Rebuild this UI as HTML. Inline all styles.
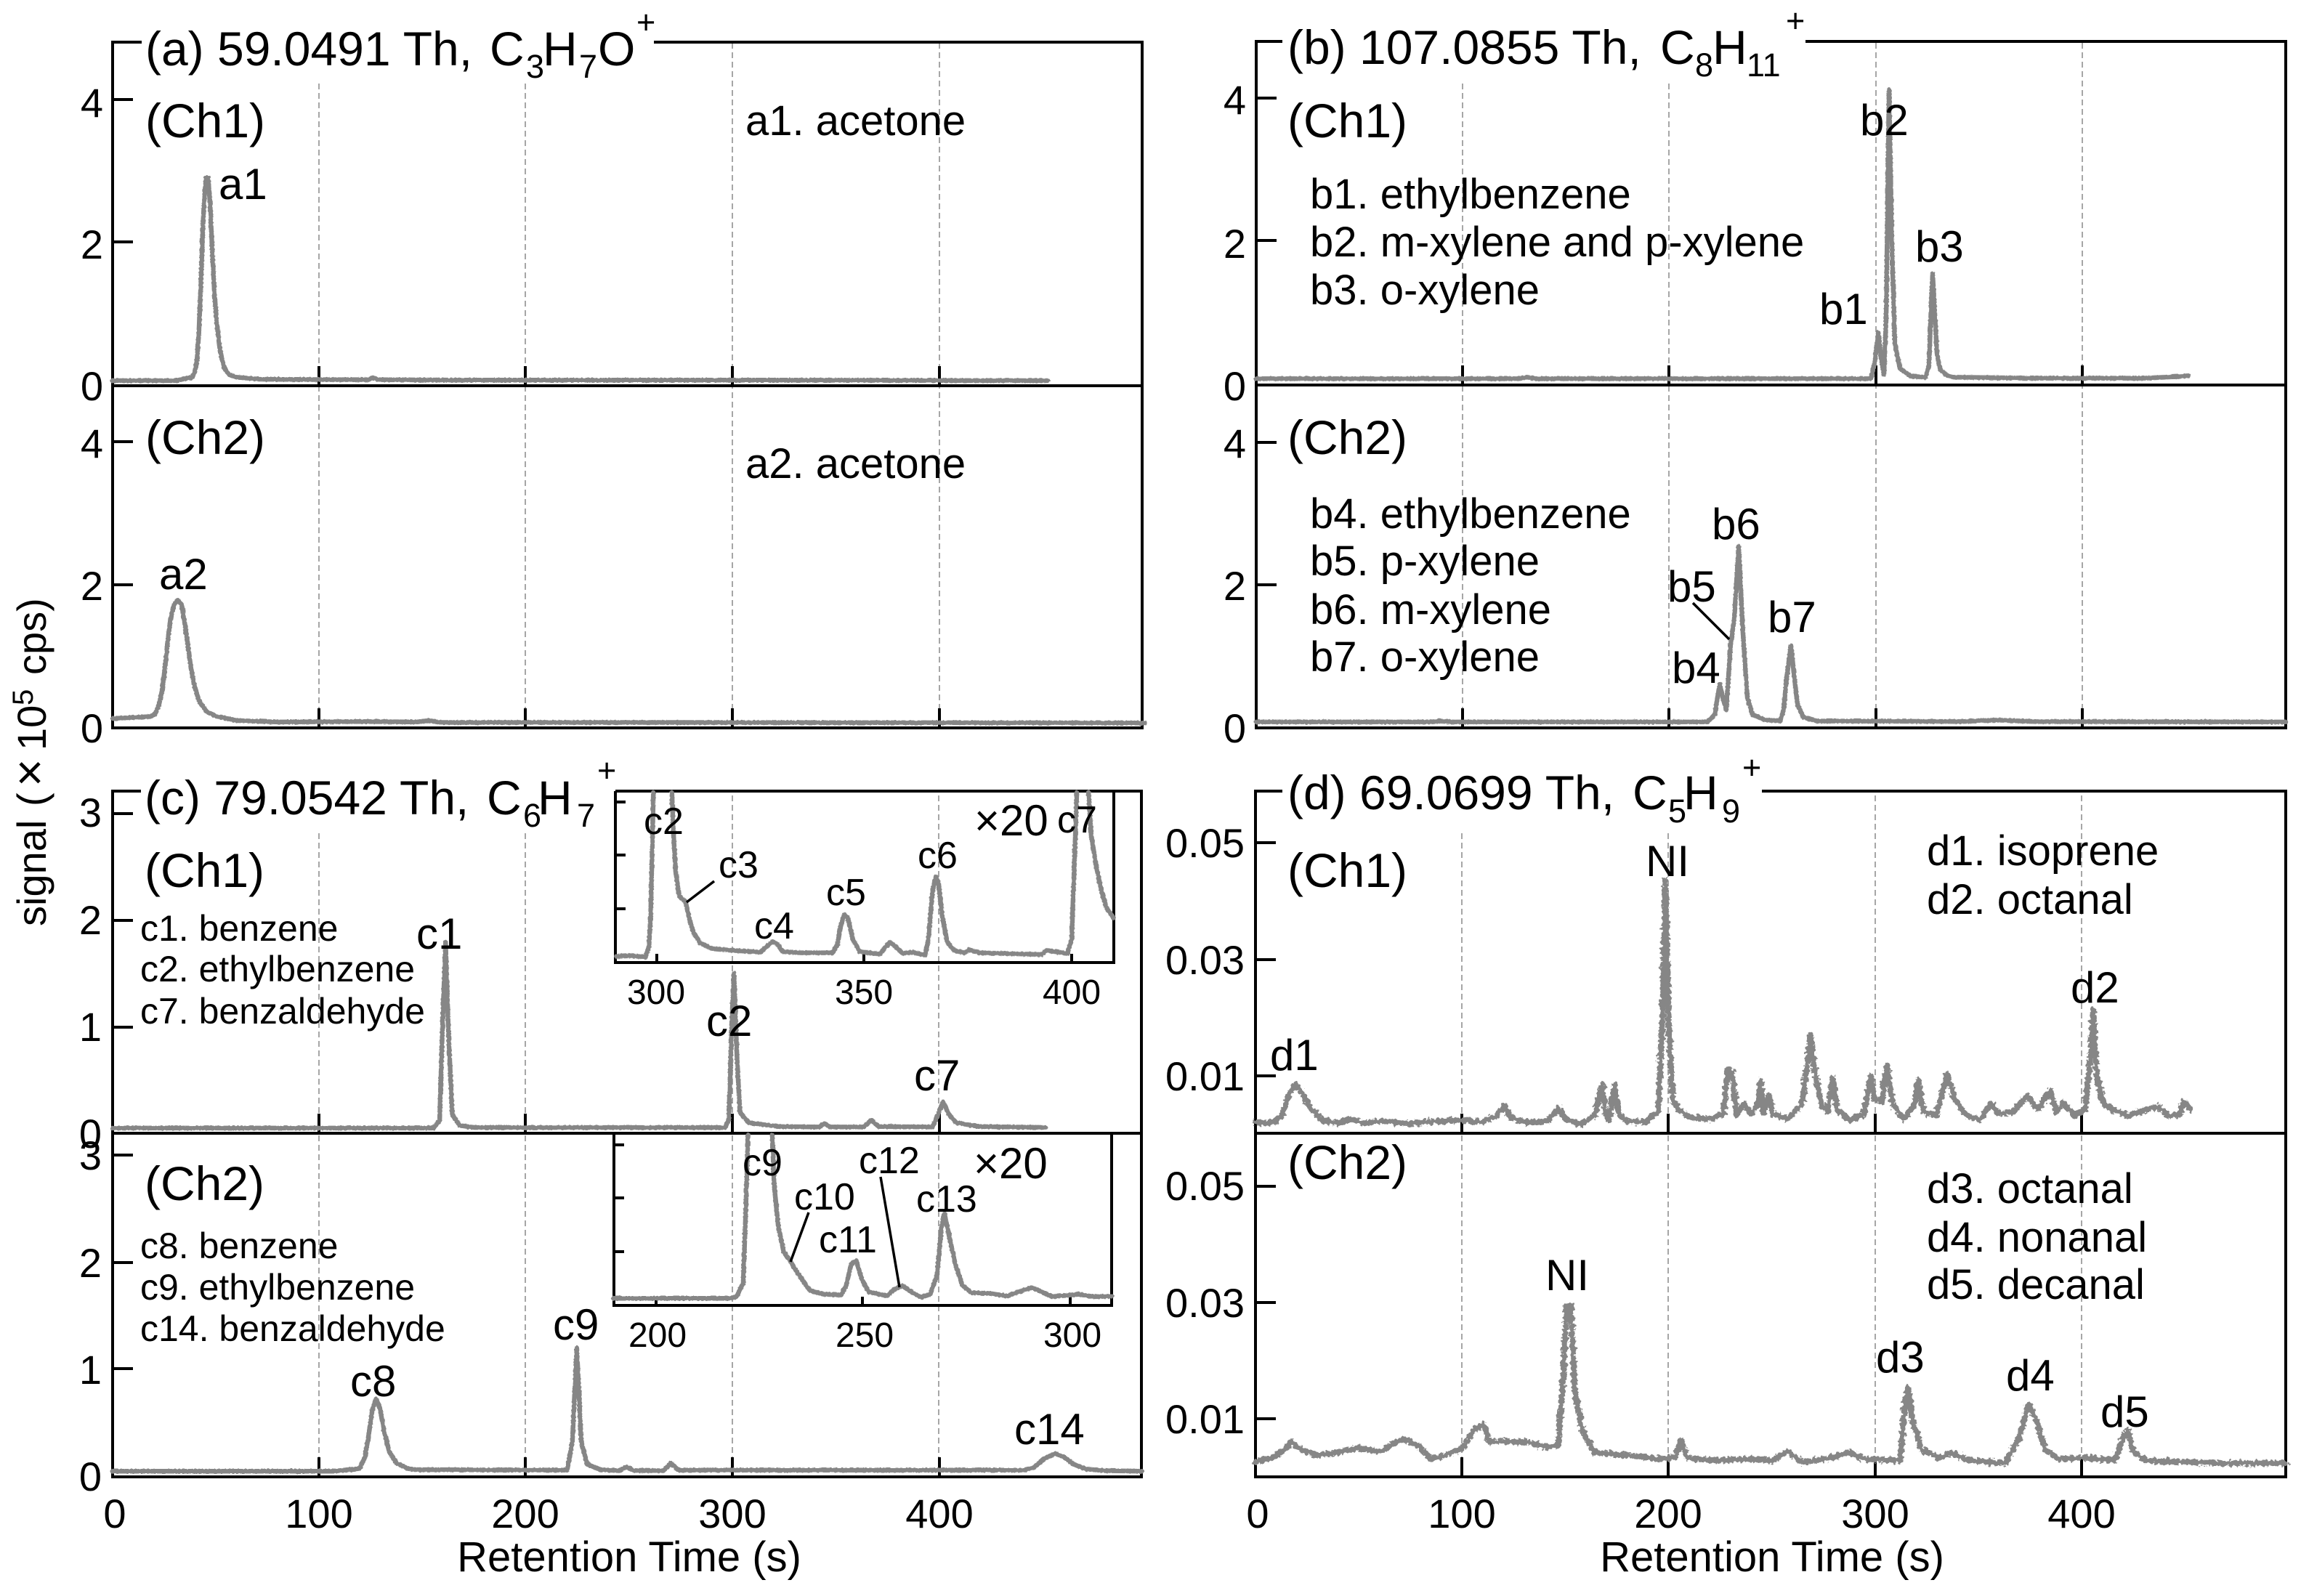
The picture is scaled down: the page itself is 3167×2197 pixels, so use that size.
<!DOCTYPE html>
<html><head><meta charset="utf-8"><style>
html,body{margin:0;padding:0;background:#fff}
svg{display:block}
text{font-family:"Liberation Sans",Arial,sans-serif;fill:#000}
.t{font-size:66px}.s{font-size:45px}.p{font-size:60px}.l{font-size:58px}.m{font-size:50px}.n{font-size:52px}.k{font-size:56px}.i{font-size:48px}.x{font-size:58px}
.e{text-anchor:end}.c{text-anchor:middle}
polyline.d{fill:none;stroke:#868686;stroke-width:6.5;vector-effect:non-scaling-stroke;stroke-linejoin:round;stroke-linecap:round}
.w polyline.d{stroke-width:8}
.g line{stroke:#888;stroke-width:1.5;stroke-dasharray:8 5}
.a path{fill:none;stroke:#000;stroke-width:4}
.b line{stroke:#000;stroke-width:4}
.h line{stroke:#000;stroke-width:3.5}
</style></head><body>
<svg xmlns="http://www.w3.org/2000/svg" width="3167" height="2197" viewBox="0 0 3167 2197">
<defs>
<filter id="r1" filterUnits="userSpaceOnUse" x="0" y="0" width="3167" height="2197" color-interpolation-filters="sRGB">
<feTurbulence type="fractalNoise" baseFrequency="0.35" numOctaves="1" seed="3" result="n"/>
<feDisplacementMap in="SourceGraphic" in2="n" scale="3" xChannelSelector="R" yChannelSelector="G"/>
</filter>
<filter id="r2" filterUnits="userSpaceOnUse" x="0" y="0" width="3167" height="2197" color-interpolation-filters="sRGB">
<feTurbulence type="fractalNoise" baseFrequency="0.22" numOctaves="2" seed="7" result="n"/>
<feDisplacementMap in="SourceGraphic" in2="n" scale="9" xChannelSelector="R" yChannelSelector="G"/>
</filter>
</defs>
<rect width="3167" height="2197" fill="#fff"/>

<!-- grid -->
<g class="g">
<line x1="439" y1="115" x2="439" y2="1002"/><line x1="723" y1="115" x2="723" y2="1002"/><line x1="1008" y1="59" x2="1008" y2="1002"/><line x1="1293" y1="59" x2="1293" y2="1002"/>
<line x1="2013" y1="115" x2="2013" y2="1002"/><line x1="2297" y1="115" x2="2297" y2="1002"/><line x1="2582" y1="59" x2="2582" y2="1002"/><line x1="2866" y1="59" x2="2866" y2="1002"/>
<line x1="439" y1="1147" x2="439" y2="2033"/><line x1="723" y1="1147" x2="723" y2="2033"/><line x1="1008" y1="1095" x2="1008" y2="2033"/><line x1="1292" y1="1095" x2="1292" y2="2033"/>
<line x1="2012" y1="1147" x2="2012" y2="2033"/><line x1="2296" y1="1147" x2="2296" y2="2033"/><line x1="2581" y1="1095" x2="2581" y2="2033"/><line x1="2865" y1="1095" x2="2865" y2="2033"/>
</g>

<!-- axes -->
<g class="a">
<path d="M195 58H155V1002H1572V58H900M155 531H1572"/>
<path d="M1765 57H1729V1002H3146V57H2485M1729 530H3146"/>
<path d="M194 1089H155V2033H1571V1089H847M155 1560H1571"/>
<path d="M1765 1089H1728V2033H3146V1089H2425M1728 1560H3146"/>
<path d="M847 1089V1325H1533V1089"/>
<path d="M845 1560V1797H1530V1560"/>
</g>

<!-- ticks -->
<g class="b">
<line x1="155" y1="137" x2="183" y2="137"/><line x1="155" y1="333" x2="183" y2="333"/><line x1="155" y1="608" x2="183" y2="608"/><line x1="155" y1="805" x2="183" y2="805"/>
<line x1="439" y1="504" x2="439" y2="531"/><line x1="723" y1="504" x2="723" y2="531"/><line x1="1008" y1="504" x2="1008" y2="531"/><line x1="1293" y1="504" x2="1293" y2="531"/>
<line x1="439" y1="975" x2="439" y2="1002"/><line x1="723" y1="975" x2="723" y2="1002"/><line x1="1008" y1="975" x2="1008" y2="1002"/><line x1="1293" y1="975" x2="1293" y2="1002"/>
<line x1="1729" y1="135" x2="1757" y2="135"/><line x1="1729" y1="331" x2="1757" y2="331"/><line x1="1729" y1="609" x2="1757" y2="609"/><line x1="1729" y1="805" x2="1757" y2="805"/>
<line x1="2013" y1="503" x2="2013" y2="530"/><line x1="2297" y1="503" x2="2297" y2="530"/><line x1="2582" y1="503" x2="2582" y2="530"/><line x1="2866" y1="503" x2="2866" y2="530"/>
<line x1="2013" y1="975" x2="2013" y2="1002"/><line x1="2297" y1="975" x2="2297" y2="1002"/><line x1="2582" y1="975" x2="2582" y2="1002"/><line x1="2866" y1="975" x2="2866" y2="1002"/>
<line x1="155" y1="1120" x2="183" y2="1120"/><line x1="155" y1="1267" x2="183" y2="1267"/><line x1="155" y1="1414" x2="183" y2="1414"/>
<line x1="155" y1="1590" x2="183" y2="1590"/><line x1="155" y1="1738" x2="183" y2="1738"/><line x1="155" y1="1884" x2="183" y2="1884"/>
<line x1="439" y1="1533" x2="439" y2="1560"/><line x1="723" y1="1533" x2="723" y2="1560"/><line x1="1008" y1="1533" x2="1008" y2="1560"/><line x1="1293" y1="1533" x2="1293" y2="1560"/>
<line x1="439" y1="2006" x2="439" y2="2033"/><line x1="723" y1="2006" x2="723" y2="2033"/><line x1="1008" y1="2006" x2="1008" y2="2033"/><line x1="1293" y1="2006" x2="1293" y2="2033"/>
<line x1="1728" y1="1160" x2="1756" y2="1160"/><line x1="1728" y1="1321" x2="1756" y2="1321"/><line x1="1728" y1="1481" x2="1756" y2="1481"/>
<line x1="1728" y1="1633" x2="1756" y2="1633"/><line x1="1728" y1="1793" x2="1756" y2="1793"/><line x1="1728" y1="1953" x2="1756" y2="1953"/>
<line x1="2012" y1="1533" x2="2012" y2="1560"/><line x1="2296" y1="1533" x2="2296" y2="1560"/><line x1="2581" y1="1533" x2="2581" y2="1560"/><line x1="2865" y1="1533" x2="2865" y2="1560"/>
<line x1="2012" y1="2006" x2="2012" y2="2033"/><line x1="2296" y1="2006" x2="2296" y2="2033"/><line x1="2581" y1="2006" x2="2581" y2="2033"/><line x1="2865" y1="2006" x2="2865" y2="2033"/>
<!-- inset 1 -->
<line x1="847" y1="1104" x2="861" y2="1104"/><line x1="847" y1="1177" x2="861" y2="1177"/><line x1="847" y1="1251" x2="861" y2="1251"/>
<line x1="904" y1="1313" x2="904" y2="1325"/><line x1="1189" y1="1313" x2="1189" y2="1325"/><line x1="1475" y1="1313" x2="1475" y2="1325"/>
<!-- inset 2 -->
<line x1="845" y1="1576" x2="859" y2="1576"/><line x1="845" y1="1649" x2="859" y2="1649"/><line x1="845" y1="1723" x2="859" y2="1723"/>
<line x1="903" y1="1785" x2="903" y2="1797"/><line x1="1187" y1="1785" x2="1187" y2="1797"/><line x1="1473" y1="1785" x2="1473" y2="1797"/>
</g>

<g filter="url(#r1)">
<!-- traces panel a -->
<g transform="scale(.6378 .6761)">
<polyline class="d" points="243,775 380,775 415,768 420,758 425,735 429,680 433,590 437,480 441,400 445,362 449,362 453,410 458,510 463,600 468,660 475,715 484,750 495,763 510,768 560,772 700,773 795,773 805,769 815,773 1000,774 1300,774 1700,774 2261,775"/>
<polyline class="d" points="243,1463 325,1459 335,1453 343,1435 350,1405 356,1360 362,1305 368,1260 375,1232 384,1222 392,1232 398,1265 405,1310 412,1360 420,1398 430,1428 445,1448 465,1458 510,1467 600,1470 780,1469 900,1470 925,1467 950,1471 1500,1471 2470,1472"/>
</g>
<!-- traces panel b -->
<g transform="translate(1600 0) scale(1 .6761)">
<polyline class="d" points="129,771 490,771 502,768 514,771 975,771 980,740 985,677 990,740 993,762 996,650 1000,183 1004,500 1008,700 1015,750 1030,766 1050,768 1055,745 1057,660 1060,557 1063,640 1066,720 1070,752 1080,765 1090,768 1200,770 1350,770 1380,768 1412,765"/>
<polyline class="d" points="129,1470 370,1470 380,1468 400,1470 750,1470 760,1455 767,1393 772,1425 776,1445 782,1310 787,1260 793,1112 799,1290 805,1420 812,1455 830,1466 850,1468 855,1445 859,1380 865,1315 869,1370 874,1435 882,1460 900,1468 1100,1469 1150,1466 1200,1469 1546,1470"/>
</g>
<!-- traces panel c -->
<g transform="translate(0 1040) scale(1.0204 .738)">
<polyline class="d" points="152,695 585,695 593,680 597,500 601,348 605,520 610,670 620,690 640,694 978,694 983,680 987,500 990,406 994,560 998,665 1010,685 1050,692 1105,693 1112,686 1120,693 1165,693 1175,680 1185,692 1258,693 1265,670 1272,646 1280,670 1290,685 1320,692 1410,694"/>
<polyline class="d" points="152,1335 450,1335 485,1330 492,1310 497,1270 502,1222 507,1200 512,1215 518,1260 525,1298 535,1320 550,1330 560,1332 765,1333 772,1280 778,1105 784,1280 792,1322 810,1332 835,1334 845,1327 855,1334 895,1334 905,1320 915,1333 1380,1333 1395,1328 1408,1312 1423,1302 1435,1308 1448,1322 1465,1331 1490,1334 1540,1335"/>
</g>
<!-- inset traces -->
<g transform="translate(820 1060) scale(.4719 .3333)">
<polyline class="d" points="60,770 100,767 145,772 155,730 160,600 165,300 168,92"/>
<polyline class="d" points="222,92 226,250 233,420 243,520 262,545 272,610 285,670 305,715 340,738 400,745 480,752 498,730 515,708 530,720 545,750 600,755 690,755 705,720 715,640 725,597 735,610 750,700 770,750 830,760 845,730 858,712 875,730 895,757 925,752 960,765 970,700 982,500 992,440 1000,470 1010,600 1025,710 1045,745 1075,755 1090,742 1120,755 1300,762 1315,745 1340,750 1375,758 1388,700 1398,300 1403,92"/>
<polyline class="d" points="1437,92 1445,270 1460,400 1475,500 1490,570 1510,610"/>
</g>
<g transform="translate(820 1540) scale(.4719 .3333)">
<polyline class="d" points="52,742 390,742 410,735 430,680 437,400 444,68"/>
<polyline class="d" points="515,68 520,270 532,440 548,550 570,595 595,650 625,710 665,725 715,728 730,690 745,600 760,588 775,660 795,715 850,732 870,705 895,690 925,720 950,737 975,725 995,650 1008,450 1017,392 1030,480 1050,610 1070,690 1095,718 1150,722 1200,732 1240,712 1272,697 1300,715 1330,735 1410,725 1450,735 1505,733"/>
</g>
</g>

<!-- traces panel d -->
<g filter="url(#r2)" class="w">
<g transform="translate(1600 1040) scale(1 .738)">
<polyline class="d" points="128,684 140,686 155,683 165,670 175,630 183,613 192,630 205,660 220,680 240,686 260,678 275,686 300,682 340,686 380,682 412,680 440,684 460,672 470,653 478,675 500,684 530,682 545,658 555,678 575,688 595,672 600,640 605,613 610,670 615,680 622,614 628,670 640,682 665,684 682,665 688,500 692,232 697,500 702,640 710,660 725,675 755,678 772,668 778,586 784,590 790,670 800,650 810,668 820,650 823,608 827,665 835,635 840,668 860,678 880,650 888,570 892,520 898,590 908,655 915,665 923,602 928,660 945,680 965,670 975,598 980,640 990,645 997,578 1005,650 1020,678 1035,650 1040,605 1047,665 1065,670 1080,595 1090,640 1105,670 1125,680 1140,648 1150,668 1170,665 1190,635 1205,660 1222,625 1230,665 1240,648 1255,672 1270,660 1277,560 1281,475 1286,600 1295,650 1310,662 1330,672 1350,662 1370,655 1385,672 1400,670 1405,645 1415,660"/>
<polyline class="d" points="128,1318 150,1310 165,1298 178,1280 190,1295 215,1305 240,1300 270,1292 300,1298 330,1275 350,1285 370,1312 390,1305 415,1290 430,1255 442,1248 450,1280 470,1280 500,1280 530,1290 545,1285 552,1150 556,1025 562,1025 567,1180 578,1260 595,1300 640,1305 680,1312 705,1310 714,1277 722,1310 760,1315 800,1312 840,1315 860,1298 880,1318 920,1310 945,1300 965,1312 1015,1315 1022,1210 1026,1180 1032,1240 1045,1295 1070,1310 1085,1300 1110,1315 1160,1320 1180,1270 1192,1210 1203,1240 1215,1295 1235,1312 1270,1310 1310,1315 1322,1275 1328,1258 1336,1300 1355,1315 1400,1317 1450,1320 1546,1320"/>
</g>
</g>

<!-- leaders -->
<g class="h">
<line x1="2330" y1="830" x2="2380" y2="880"/>
<line x1="983" y1="1213" x2="945" y2="1242"/>
<line x1="1113" y1="1669" x2="1088" y2="1737"/>
<line x1="1212" y1="1620" x2="1238" y2="1772"/>
</g>

<!-- y label -->
<text class="k" transform="translate(63 1275) rotate(-90)">signal<tspan x="165">(</tspan><tspan x="192" font-size="66">×</tspan><tspan x="242">10</tspan><tspan x="304" y="-18" font-size="40">5</tspan><tspan x="346" y="0">cps)</tspan></text>

<!-- panel a text -->
<text class="t" x="200" y="90">(a) 59.0491 Th,</text><text class="t" x="674" y="90">C</text><text class="s" x="724" y="107">3</text><text class="t" x="747" y="90">H</text><text class="s" x="797" y="107">7</text><text class="t" x="823" y="90">O</text><text class="s" x="876" y="46">+</text>
<text class="t" x="200" y="189">(Ch1)</text><text class="t" x="200" y="625">(Ch2)</text>
<text class="p" x="301" y="274">a1</text><text class="p" x="219" y="811">a2</text>
<text class="l" x="1026" y="186">a1. acetone</text><text class="l" x="1026" y="658">a2. acetone</text>
<g class="k e"><text x="142" y="161">4</text><text x="142" y="356">2</text><text x="142" y="551">0</text><text x="142" y="630">4</text><text x="142" y="826">2</text><text x="142" y="1022">0</text></g>

<!-- panel b text -->
<text class="t" x="1772" y="88">(b) 107.0855 Th,</text><text class="t" x="2285" y="88">C</text><text class="s" x="2333" y="105">8</text><text class="t" x="2357" y="88">H</text><text class="s" x="2404" y="105">11</text><text class="s" x="2458" y="44">+</text>
<text class="t" x="1772" y="189">(Ch1)</text><text class="t" x="1772" y="625">(Ch2)</text>
<g class="l"><text x="1803" y="287">b1. ethylbenzene</text><text x="1803" y="353">b2. m-xylene and p-xylene</text><text x="1803" y="419">b3. o-xylene</text><text x="1803" y="727">b4. ethylbenzene</text><text x="1803" y="792">b5. p-xylene</text><text x="1803" y="859">b6. m-xylene</text><text x="1803" y="924">b7. o-xylene</text></g>
<g class="p"><text x="2560" y="186">b2</text><text x="2636" y="360">b3</text><text x="2504" y="446">b1</text><text x="2356" y="742">b6</text><text x="2295" y="828">b5</text><text x="2301" y="940">b4</text><text x="2433" y="870">b7</text></g>
<g class="k e"><text x="1715" y="157">4</text><text x="1715" y="355">2</text><text x="1715" y="551">0</text><text x="1715" y="630">4</text><text x="1715" y="826">2</text><text x="1715" y="1022">0</text></g>

<!-- panel c text -->
<text class="t" x="199" y="1121">(c) 79.0542 Th,</text><text class="t" x="670" y="1121">C</text><text class="s" x="720" y="1138">6</text><text class="t" x="740" y="1121">H</text><text class="s" x="794" y="1138">7</text><text class="s" x="822" y="1076">+</text>
<text class="t" x="199" y="1221">(Ch1)</text><text class="t" x="199" y="1652">(Ch2)</text>
<g class="m"><text x="193" y="1295">c1. benzene</text><text x="193" y="1351">c2. ethylbenzene</text><text x="193" y="1409">c7. benzaldehyde</text><text x="193" y="1732">c8. benzene</text><text x="193" y="1789">c9. ethylbenzene</text><text x="193" y="1846">c14. benzaldehyde</text></g>
<g class="p"><text x="573" y="1306">c1</text><text x="972" y="1426">c2</text><text x="1258" y="1501">c7</text><text x="482" y="1922">c8</text><text x="761" y="1844">c9</text><text x="1396" y="1988">c14</text></g>
<g class="k e"><text x="140" y="1138">3</text><text x="140" y="1286">2</text><text x="140" y="1433">1</text><text x="140" y="1580">0</text><text x="140" y="1610">3</text><text x="140" y="1758">2</text><text x="140" y="1905">1</text><text x="140" y="2052">0</text></g>
<g class="k c"><text x="158" y="2103">0</text><text x="439" y="2103">100</text><text x="723" y="2103">200</text><text x="1008" y="2103">300</text><text x="1293" y="2103">400</text></g>
<text class="x c" x="866" y="2163">Retention Time (s)</text>

<!-- inset labels -->
<g class="n"><text x="886" y="1148">c2</text><text x="989" y="1208">c3</text><text x="1038" y="1292">c4</text><text x="1137" y="1246">c5</text><text x="1263" y="1195">c6</text><text x="1455" y="1146">c7</text></g>
<text class="l" style="font-size:60px" x="1341" y="1150">×20</text>
<g class="i c"><text x="903" y="1382">300</text><text x="1189" y="1382">350</text><text x="1475" y="1382">400</text></g>
<g class="n"><text x="1022" y="1618">c9</text><text x="1182" y="1615">c12</text><text x="1093" y="1665">c10</text><text x="1261" y="1668">c13</text><text x="1127" y="1724">c11</text></g>
<text class="l" style="font-size:60px" x="1340" y="1622">×20</text>
<g class="i c"><text x="905" y="1854">200</text><text x="1190" y="1854">250</text><text x="1476" y="1854">300</text></g>

<!-- panel d text -->
<text class="t" x="1772" y="1114">(d) 69.0699 Th,</text><text class="t" x="2247" y="1114">C</text><text class="s" x="2296" y="1132">5</text><text class="t" x="2317" y="1114">H</text><text class="s" x="2370" y="1132">9</text><text class="s" x="2398" y="1072">+</text>
<text class="t" x="1772" y="1221">(Ch1)</text><text class="t" x="1772" y="1623">(Ch2)</text>
<g class="l"><text x="2652" y="1191">d1. isoprene</text><text x="2652" y="1258">d2. octanal</text><text x="2652" y="1656">d3. octanal</text><text x="2652" y="1723">d4. nonanal</text><text x="2652" y="1788">d5. decanal</text></g>
<g class="p"><text x="2265" y="1206">NI</text><text x="2127" y="1776">NI</text><text x="1748" y="1473">d1</text><text x="2850" y="1380">d2</text><text x="2582" y="1889">d3</text><text x="2761" y="1914">d4</text><text x="2891" y="1964">d5</text></g>
<g class="k e"><text x="1713" y="1180">0.05</text><text x="1713" y="1341">0.03</text><text x="1713" y="1501">0.01</text><text x="1713" y="1652">0.05</text><text x="1713" y="1813">0.03</text><text x="1713" y="1973">0.01</text></g>
<g class="k c"><text x="1731" y="2103">0</text><text x="2012" y="2103">100</text><text x="2296" y="2103">200</text><text x="2581" y="2103">300</text><text x="2865" y="2103">400</text></g>
<text class="x c" x="2439" y="2163">Retention Time (s)</text>
</svg>
</body></html>
